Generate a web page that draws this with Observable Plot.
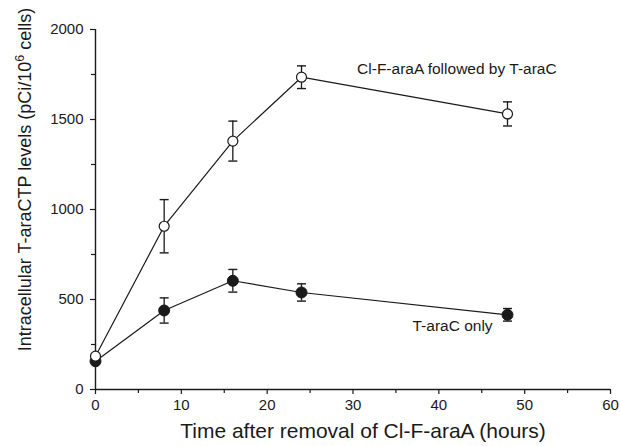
<!DOCTYPE html>
<html><head><meta charset="utf-8">
<script src="https://cdn.jsdelivr.net/npm/d3@7"></script>
<script src="https://cdn.jsdelivr.net/npm/@observablehq/plot@0.6"></script>
<style>
html,body{margin:0;padding:0;background:#fff;}
#chart{width:620px;height:446px;}
</style></head><body><div id="chart"></div>
<script>
const hours = [0, 8, 16, 24, 48];
const combinedMean = [185, 907, 1380, 1735, 1531];
const combinedSD = [10, 148, 111, 63, 67];
const aloneMean = [157, 439, 604, 539, 415];
const aloneSD = [10, 70, 63, 48, 35];
const seriesNames = ["Cl-F-araA followed by T-araC", "T-araC only"];
const labelHours = [42.1, 41.6];
const labelValues = [1778, 350];
const xTicks = [0, 10, 20, 30, 40, 50, 60];
const xMinorTicks = [5, 15, 25, 35, 45, 55];
const yTicks = [0, 500, 1000, 1500, 2000];
const yMinorTicks = [250, 750, 1250, 1750];
const xTitle = "Time after removal of Cl-F-araA (hours)";
const yTitle = "Intracellular T-araCTP levels (pCi/106 cells)";

const combined = hours.map((h, i) => ({series: seriesNames[0], x: h, y: combinedMean[i], lo: combinedMean[i] - combinedSD[i], hi: combinedMean[i] + combinedSD[i]}));
const alone = hours.map((h, i) => ({series: seriesNames[1], x: h, y: aloneMean[i], lo: aloneMean[i] - aloneSD[i], hi: aloneMean[i] + aloneSD[i]}));
const caps = [...alone, ...combined].flatMap(d => [{x: d.x, y: d.lo}, {x: d.x, y: d.hi}]);
const labels = seriesNames.map((s, i) => ({text: s, x: labelHours[i], y: labelValues[i]}));

const capSymbol = {draw(ctx) { ctx.moveTo(-4.5, 0); ctx.lineTo(4.5, 0); }};
const ink = "#1a1a1a";

const chart = Plot.plot({
  width: 620, height: 446,
  marginLeft: 95, marginRight: 10, marginTop: 29, marginBottom: 57,
  style: {fontFamily: "'Liberation Sans', Arial, sans-serif", fontSize: "15px", color: ink, background: "#fff"},
  x: {domain: [0, 60]},
  y: {domain: [0, 2000]},
  marks: [
    Plot.axisX(xTicks, {tickSize: 5, tickPadding: 5, fontSize: 15, label: null, tickFormat: d => String(d), strokeWidth: 1.2}),
    Plot.axisX(xMinorTicks, {tickSize: 4, tickFormat: () => "", label: null, strokeWidth: 1.2}),
    Plot.axisY(yTicks, {tickSize: 5, tickPadding: 7, fontSize: 15, label: null, tickFormat: d => String(d), strokeWidth: 1.2}),
    Plot.axisY(yMinorTicks, {tickSize: 4, tickFormat: () => "", label: null, strokeWidth: 1.2}),
    Plot.ruleX([0], {stroke: ink, strokeWidth: 1.4}),
    Plot.ruleY([0], {stroke: ink, strokeWidth: 1.4}),
    Plot.line(alone, {x: "x", y: "y", stroke: ink, strokeWidth: 1.2}),
    Plot.line(combined, {x: "x", y: "y", stroke: ink, strokeWidth: 1.2}),
    Plot.ruleX([...alone, ...combined], {x: "x", y1: "lo", y2: "hi", stroke: ink, strokeWidth: 1.3}),
    Plot.dot(caps, {x: "x", y: "y", symbol: capSymbol, fill: "none", stroke: ink, strokeWidth: 1.4}),
    Plot.dot(alone, {x: "x", y: "y", r: 5.5, fill: ink, stroke: ink, strokeWidth: 1}),
    Plot.dot(combined, {x: "x", y: "y", r: 5, fill: "#fff", stroke: ink, strokeWidth: 1.2}),
    Plot.text(labels, {x: "x", y: "y", text: "text", fontSize: 15.5, fill: ink}),
    Plot.text([xTitle], {frameAnchor: "bottom", textAnchor: "middle", dy: 48, dx: 10, fontSize: 21, fill: ink}),
    Plot.text([yTitle], {frameAnchor: "left", textAnchor: "middle", rotate: -90, dx: -70, dy: -30, fontSize: 18, fill: ink})
  ]
});
document.getElementById("chart").appendChild(chart);

// render the exponent of 10^6 as a real superscript
d3.select(chart).selectAll("text").filter(function() { return this.textContent === yTitle; }).each(function() {
  const t = d3.select(this);
  t.text(null);
  t.append("tspan").text("Intracellular T-araCTP levels (pCi/10");
  t.append("tspan").attr("font-size", "0.7em").attr("dy", "-0.55em").text("6");
  t.append("tspan").attr("dy", "0.385em").text(" cells)");
});
</script></body></html>
